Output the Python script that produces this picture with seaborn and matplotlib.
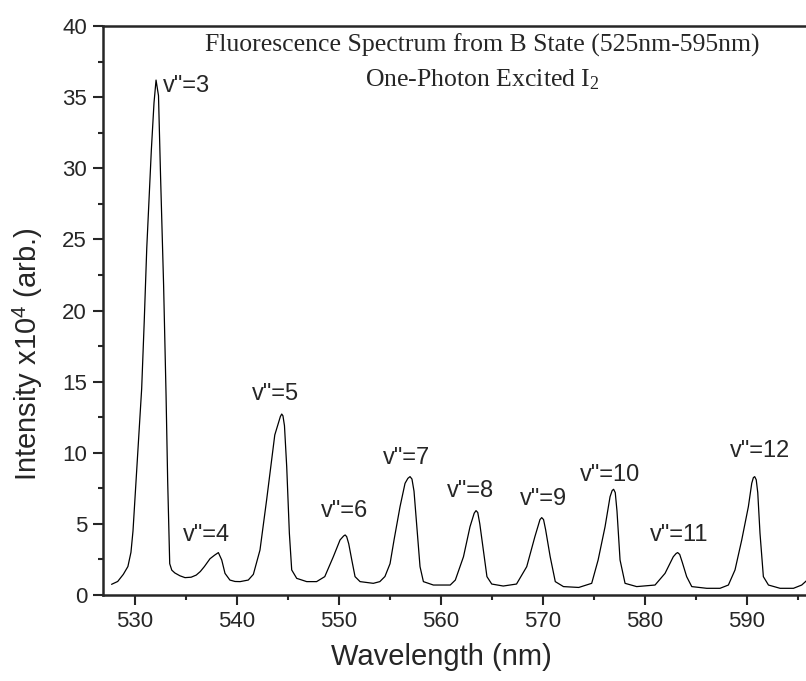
import pandas as pd
import seaborn as sns
import matplotlib.pyplot as plt
from matplotlib.ticker import MultipleLocator

# spectrum (nm, intensity x10^4)
wavelength = [527.7, 528.3, 528.85, 529.3, 529.6, 529.8, 530.1, 530.35, 530.65, 530.9,
              531.15, 531.37, 531.6, 531.86, 532.06, 532.3, 532.5, 532.8, 533.04, 533.2,
              533.4, 533.6, 533.9, 534.4, 534.9, 535.5, 536.0, 536.4, 536.8, 537.35,
              537.8, 538.17, 538.5, 538.82, 539.3, 539.8, 540.3, 541.1, 541.6, 542.25,
              542.9, 543.4, 543.7, 544.05, 544.25, 544.38, 544.5, 544.65, 544.87, 545.13,
              545.36, 545.85, 546.83, 547.8, 548.6, 549.44, 550.1, 550.45, 550.6, 550.75,
              550.95, 551.25, 551.57, 552.06, 553.36, 554.0, 554.5, 555.0, 555.4, 555.98,
              556.47, 556.75, 556.96, 557.15, 557.35, 557.6, 557.94, 558.27, 559.25, 560.9,
              561.4, 562.2, 562.84, 563.25, 563.43, 563.6, 563.8, 564.15, 564.5, 564.97,
              566.1, 567.4, 568.4, 569.2, 569.7, 569.87, 570.05, 570.25, 570.7, 571.2,
              572.0, 573.5, 574.77, 575.4, 576.08, 576.57, 576.78, 576.92, 577.08, 577.25,
              577.55, 578.04, 579.18, 580.98, 581.96, 582.77, 583.05, 583.2, 583.4, 583.65,
              584.08, 584.58, 586.05, 587.35, 588.17, 588.82, 589.48, 590.13, 590.46, 590.62,
              590.75, 590.9, 591.05, 591.27, 591.6, 592.1, 593.24, 594.55, 595.36, 595.9]
intensity = [0.75, 0.95, 1.45, 2.0, 3.0, 4.5, 8.0, 11.0, 14.5, 19.2,
             24.4, 27.7, 31.3, 34.6, 36.2, 35.1, 29.5, 21.8, 14.1, 8.0,
             2.2, 1.75, 1.55, 1.35, 1.22, 1.25, 1.4, 1.65, 2.0, 2.55,
             2.8, 2.98, 2.46, 1.52, 1.05, 0.95, 0.94, 1.05, 1.45, 3.16,
             6.68, 9.5, 11.25, 12.07, 12.55, 12.72, 12.6, 11.9, 9.02, 4.34,
             1.76, 1.17, 0.94, 0.94, 1.29, 2.69, 3.87, 4.15, 4.22, 4.1,
             3.6, 2.46, 1.29, 0.94, 0.82, 0.94, 1.3, 2.2, 3.9, 6.21,
             7.85, 8.2, 8.32, 8.15, 7.3, 5.04, 1.99, 0.94, 0.70, 0.70,
             1.05, 2.69, 4.8, 5.75, 5.93, 5.8, 5.0, 3.16, 1.29, 0.77,
             0.63, 0.77, 1.99, 4.1, 5.3, 5.44, 5.3, 4.6, 2.69, 0.94,
             0.59, 0.53, 0.82, 2.46, 4.8, 6.91, 7.35, 7.43, 7.2, 5.9,
             2.46, 0.82, 0.59, 0.70, 1.52, 2.69, 2.92, 2.98, 2.85, 2.3,
             1.29, 0.59, 0.47, 0.47, 0.70, 1.76, 3.87, 6.21, 7.85, 8.25,
             8.32, 8.1, 7.2, 4.34, 1.29, 0.70, 0.47, 0.47, 0.70, 1.05]

# peak labels
peak_labels = ['v"=3', 'v"=4', 'v"=5', 'v"=6', 'v"=7', 'v"=8', 'v"=9', 'v"=10', 'v"=11', 'v"=12']
label_x = [532.75, 537.0, 543.8, 550.5, 556.6, 562.9, 570.0, 576.6, 583.3, 591.3]
label_y = [35.8, 4.2, 14.1, 5.9, 9.6, 7.3, 6.75, 8.45, 4.2, 10.1]

sns.set_style("ticks")
plt.rcParams['font.family'] = ['Liberation Sans', 'DejaVu Sans']
plt.rcParams['mathtext.fontset'] = 'custom'
plt.rcParams['mathtext.rm'] = 'Liberation Serif'
plt.rcParams['mathtext.sf'] = 'Liberation Sans'
plt.rcParams['mathtext.it'] = 'Liberation Serif:italic'

df = pd.DataFrame({"wavelength": wavelength, "intensity": intensity})

fig = plt.figure(figsize=(8.06, 6.81), dpi=100)
ax = fig.add_axes([0.1278, 0.1263, 0.8722, 0.8355])

sns.lineplot(x="wavelength", y="intensity", data=df, color="black", linewidth=0.9, ax=ax)

ax.set_xlim(526.86, 595.78)
ax.set_ylim(0, 40)
ax.xaxis.set_major_locator(MultipleLocator(10))
ax.xaxis.set_minor_locator(MultipleLocator(5))
ax.yaxis.set_major_locator(MultipleLocator(5))
ax.yaxis.set_minor_locator(MultipleLocator(2.5))
ax.tick_params(which="major", direction="out", length=7.5, width=1.5, labelsize=16, pad=4)
ax.tick_params(which="minor", direction="out", length=3.5, width=1.5)
ax.spines["right"].set_visible(False)
for s in ["left", "bottom", "top"]:
    ax.spines[s].set_linewidth(1.8)

ax.set_xlabel("Wavelength (nm)", fontsize=21)
ax.set_ylabel(r"Intensity x10$^{\mathsf{4}}$ (arb.)", fontsize=21)
ax.xaxis.set_label_coords(0.481, -0.085)
ax.yaxis.set_label_coords(-0.083, 0.4235)

for txt, x, y in zip(peak_labels, label_x, label_y):
    ha = "left" if txt == 'v"=3' else "center"
    ax.text(x, y, txt, fontsize=17, ha=ha, va="center")

ax.text(0.54, 0.9548, "Fluorescence Spectrum from B State (525nm-595nm)",
        transform=ax.transAxes, ha="center", va="baseline", fontsize=18.5, family="Liberation Serif")
ax.text(0.54, 0.8946, r"One-Photon Excited I$_{\mathrm{2}}$",
        transform=ax.transAxes, ha="center", va="baseline", fontsize=18.5, family="Liberation Serif")

fig.savefig("out.png", dpi=100)
